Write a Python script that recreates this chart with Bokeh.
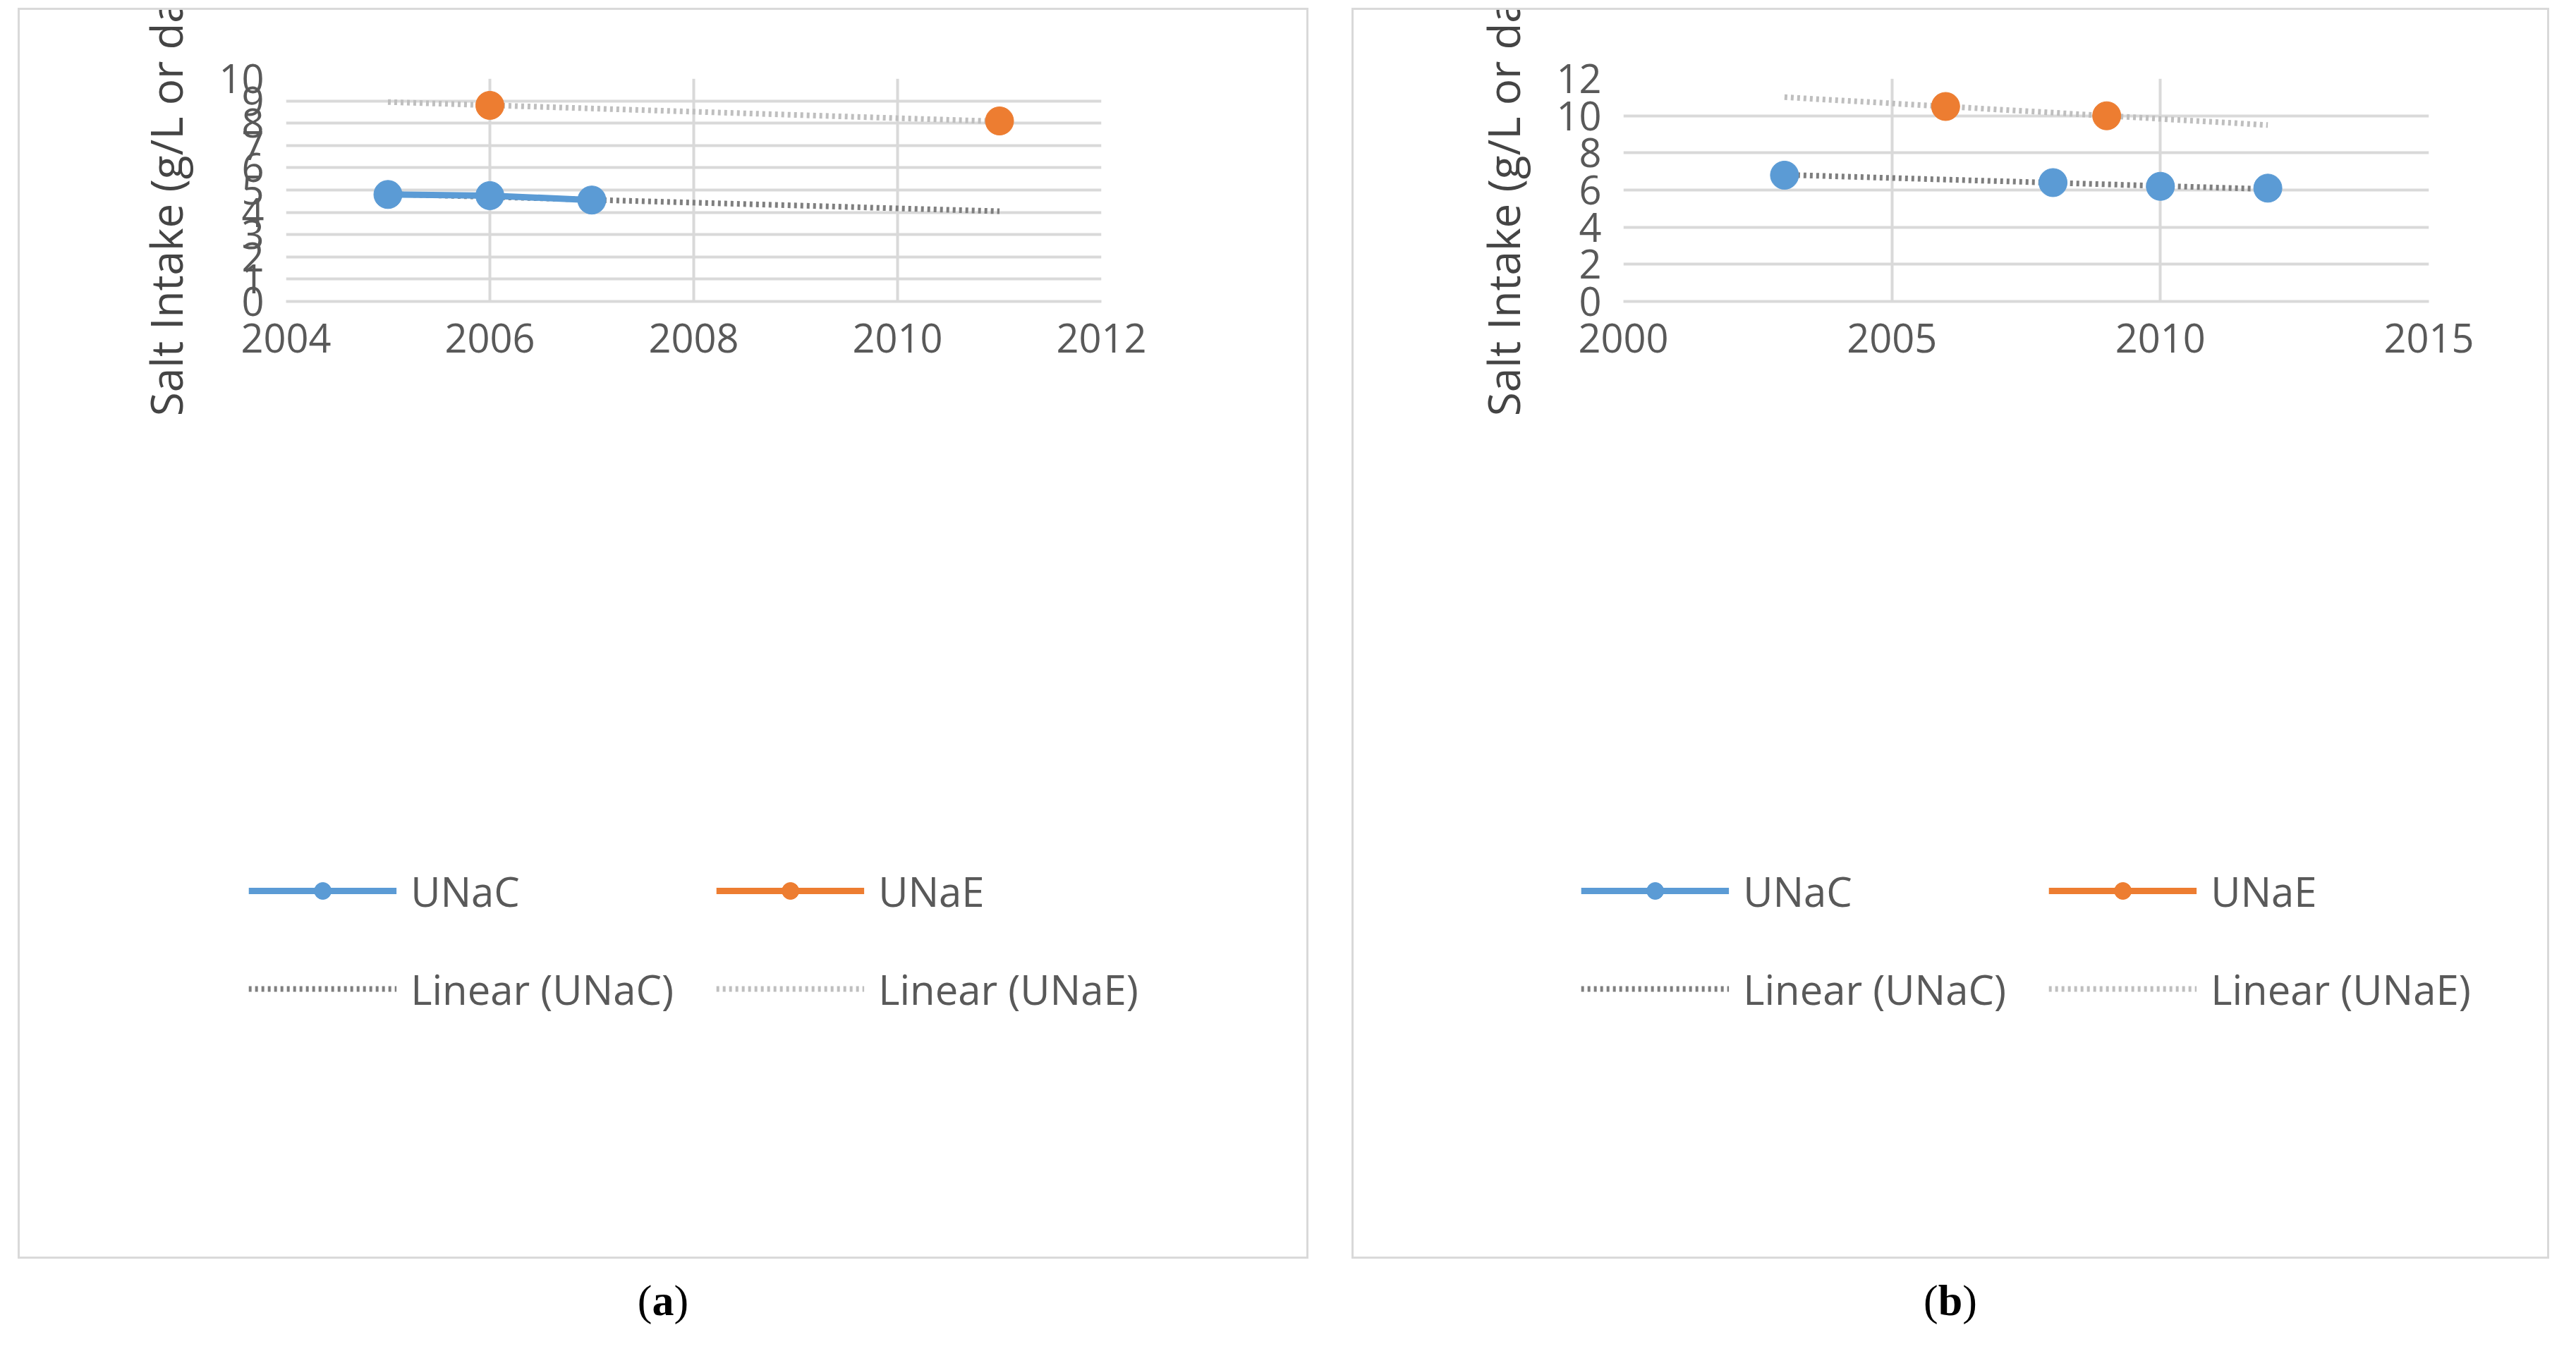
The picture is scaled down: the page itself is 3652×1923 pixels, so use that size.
from bokeh.plotting import figure
from bokeh.layouts import row, column
from bokeh.models import Range1d, FixedTicker, Legend, LegendItem, Div, Spacer, Column
from bokeh.embed import file_html
from bokeh.resources import INLINE

# Panel (a)
a_unac_x = [2005, 2006, 2007]
a_unac_y = [4.8, 4.75, 4.55]
a_unae_x = [2006, 2011]
a_unae_y = [8.8, 8.1]
a_trc_x = [2005, 2011]
a_trc_y = [4.82, 4.05]
a_tre_x = [2005, 2011]
a_tre_y = [8.95, 8.08]
# Panel (b)
b_unac_x = [2003, 2008, 2010, 2012]
b_unac_y = [6.8, 6.4, 6.2, 6.1]
b_unae_x = [2006, 2009]
b_unae_y = [10.5, 10.0]
b_trc_x = [2003, 2012]
b_trc_y = [6.82, 6.05]
b_tre_x = [2003, 2012]
b_tre_y = [11.0, 9.5]

BLUE = "#5B9BD5"; ORANGE = "#ED7D31"; DG = "#7F7F7F"; LG = "#BFBFBF"
FONT = "Open Sans"
DASH = "4 5"

def panel(fw, bl, br, xr, yr, xt, yt, data, connect_c):
    cx, cy, ex, ey, tcx, tcy, tex, tey = data
    p = figure(frame_width=fw, frame_height=1165, output_backend="svg", toolbar_location=None,
               x_range=Range1d(*xr), y_range=Range1d(*yr),
               min_border_left=bl, min_border_right=br, min_border_top=97, min_border_bottom=0)
    p.outline_line_color = None
    for ax in (p.xaxis[0], p.yaxis[0]):
        ax.major_tick_line_color = None
        ax.minor_tick_line_color = None
        ax.major_label_text_font = FONT
        ax.major_label_text_font_size = "56px"
        ax.major_label_text_color = "#595959"
    p.yaxis.axis_line_color = None
    p.xaxis.axis_line_color = "#D9D9D9"
    p.xaxis.axis_line_width = 4
    p.xaxis.ticker = FixedTicker(ticks=xt)
    p.yaxis.ticker = FixedTicker(ticks=yt)
    p.xaxis.major_label_standoff = 25
    p.yaxis.major_label_standoff = 25
    p.yaxis.axis_label = "Salt Intake (g/L or day)"
    p.yaxis.axis_label_text_font = FONT
    p.yaxis.axis_label_text_font_size = "62px"
    p.yaxis.axis_label_text_font_style = "normal"
    p.yaxis.axis_label_standoff = 30
    for g in (p.xgrid[0], p.ygrid[0]):
        g.grid_line_color = "#D9D9D9"; g.grid_line_width = 4
    p.xgrid.ticker = FixedTicker(ticks=xt)
    p.ygrid.ticker = FixedTicker(ticks=yt)
    r_tc = p.line(tcx, tcy, line_color=DG, line_width=8, line_dash=DASH)
    r_te = p.line(tex, tey, line_color=LG, line_width=8, line_dash=DASH)
    if connect_c:
        lc = p.line(cx, cy, line_color=BLUE, line_width=9)
    else:
        lc = p.line(cx[:1], cy[:1], line_color=BLUE, line_width=9)
    le = p.line(ex[:1], ey[:1], line_color=ORANGE, line_width=9)
    sc = p.scatter(cx, cy, size=40, fill_color=BLUE, line_color=BLUE)
    se = p.scatter(ex, ey, size=40, fill_color=ORANGE, line_color=ORANGE)
    leg = Legend(items=[LegendItem(label="UNaC", renderers=[lc, sc]),
                        LegendItem(label="Linear (UNaC)", renderers=[r_tc]),
                        LegendItem(label="UNaE", renderers=[le, se]),
                        LegendItem(label="Linear (UNaE)", renderers=[r_te])],
                 ncols=2, location="center", border_line_color=None,
                 label_text_font=FONT, label_text_font_size="58px", label_text_color="#595959",
                 glyph_width=210, glyph_height=60, spacing=60, margin=60,
                 padding=0, label_standoff=20, label_width=260)
    p.add_layout(leg, "below")
    return p

p1 = panel(1165, 377, 291, (2004, 2012), (0, 10),
           [2004, 2006, 2008, 2010, 2012], list(range(0, 11)),
           (a_unac_x, a_unac_y, a_unae_x, a_unae_y, a_trc_x, a_trc_y, a_tre_x, a_tre_y), True)
p2 = panel(1148, 382, 168, (2000, 2015), (0, 12),
           [2000, 2005, 2010, 2015], [0, 2, 4, 6, 8, 10, 12],
           (b_unac_x, b_unac_y, b_unae_x, b_unae_y, b_trc_x, b_trc_y, b_tre_x, b_tre_y), False)

def box(p, w, ml):
    c = Column(children=[p, Spacer(height=100)], width=w, height=1774,
               styles={"border": "3px solid #D9D9D9", "box-sizing": "border-box", "overflow": "hidden"})
    c.margin = (11, 0, 0, ml)
    return c

def lab(t, w, ml):
    d = Div(text="(<b>%s</b>)" % t, width=w, height=90,
            styles={"text-align": "center", "font-family": "Liberation Serif", "font-size": "62px", "width": "%dpx" % w})
    d.margin = (15, 0, 0, ml)
    return d

layout = column(row(box(p1, 1830, 25), box(p2, 1698, 61)), row(lab("a", 1830, 25), lab("b", 1698, 61)))
open("out.html", "w").write(file_html(layout, INLINE))
